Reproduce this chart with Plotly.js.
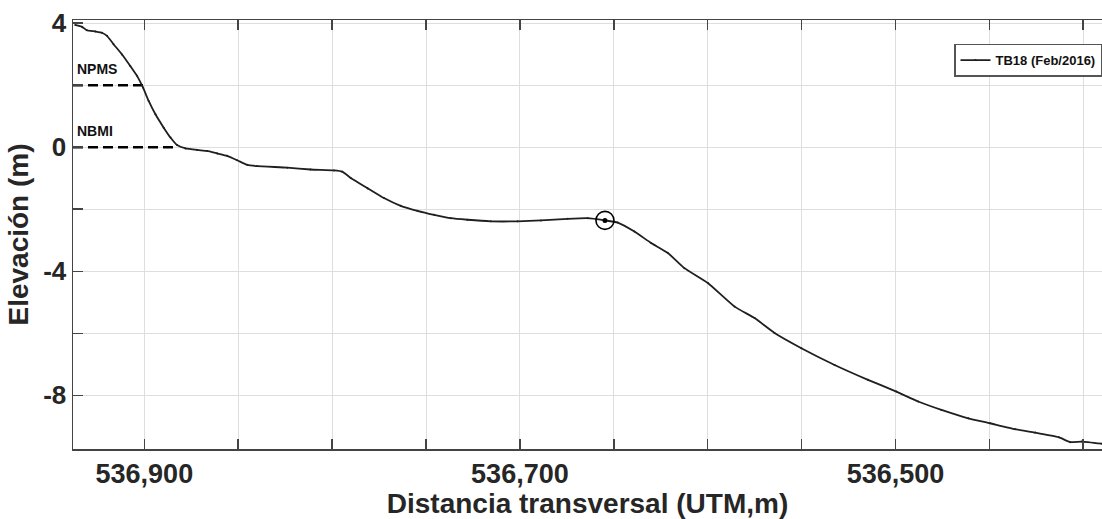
<!DOCTYPE html>
<html>
<head>
<meta charset="utf-8">
<script src="https://cdn.plot.ly/plotly-3.0.1.min.js"></script>
<style>
  html, body { margin: 0; padding: 0; background: #fff; }
  #chart { width: 1102px; height: 519px; }
</style>
</head>
<body>
<div id="chart"></div>
<script>
// Beach profile TB18, surveyed February 2016 (UTM easting vs. elevation)
const seriesName = 'TB18 (Feb/2016)';

const distance = [
  536936.8, 536933.2, 536930.6, 536926.1, 536922.6, 536919.9, 536916.4, 536911.9,
  536907.5, 536903.9, 536900.7, 536897.7, 536894.1, 536889.7, 536886.1, 536882.6,
  536878.1, 536871.9, 536866.6, 536861.2, 536855.9, 536850.6, 536845.2, 536839.9,
  536823.9, 536811.5, 536799.0, 536794.6, 536790.1, 536781.2, 536772.4, 536763.5,
  536754.6, 536745.7, 536736.8, 536727.9, 536715.5, 536701.2, 536688.8, 536674.6,
  536663.9, 536654.7, 536647.9, 536639.0, 536630.1, 536621.2, 536612.4, 536599.9,
  536585.7, 536575.0, 536564.4, 536550.1, 536532.4, 536514.6, 536499.5, 536487.9,
  536475.5, 536461.2, 536449.6, 536436.3, 536425.6, 536413.1, 536406.9, 536400.7,
  536390.1
];

const elevation = [
  3.94, 3.88, 3.77, 3.73, 3.69, 3.59, 3.32, 2.99,
  2.62, 2.30, 1.92, 1.49, 1.06, 0.63, 0.31, 0.07,
  -0.04, -0.09, -0.12, -0.20, -0.28, -0.42, -0.57, -0.61,
  -0.66, -0.72, -0.75, -0.79, -0.99, -1.32, -1.64, -1.89,
  -2.05, -2.18, -2.29, -2.34, -2.39, -2.39, -2.36, -2.31,
  -2.29, -2.36, -2.43, -2.72, -3.09, -3.41, -3.90, -4.38,
  -5.14, -5.51, -5.99, -6.48, -7.02, -7.50, -7.88, -8.20,
  -8.47, -8.74, -8.90, -9.09, -9.20, -9.35, -9.51, -9.49,
  -9.56
];

// Index of the marked break point on the profile
const breakIndex = 41;

// Reference water levels: name, elevation and the easting where the dashed line stops
const levelNames = ['NPMS', 'NBMI'];
const levelValues = [2, 0];
const levelEnds = [536900.5, 536884.0];

// Axis ticks
const xTickValues = [536400, 536450, 536500, 536550, 536600, 536650, 536700, 536750, 536800, 536850, 536900];
const xTickText   = ['', '', '536,500', '', '', '', '536,700', '', '', '', '536,900'];
const yTickValues = [-8, -6, -4, -2, 0, 2, 4];
const yTickText   = ['-8', '', '-4', '', '0', '', '4'];

const xRange = [536938, 536390];
const yRange = [-9.73, 4.1];

const ink = '#262626';
const fontFamily = 'Liberation Sans, Arial, Helvetica, sans-serif';

const traces = [];

// Dashed reference levels
levelValues.forEach((lv, i) => {
  traces.push({
    x: [xRange[0], levelEnds[i]],
    y: [lv, lv],
    mode: 'lines',
    line: { color: '#000', width: 2.5, dash: '10px,5px' },
    showlegend: false,
    hoverinfo: 'skip'
  });
});

// Profile
traces.push({
  x: distance,
  y: elevation,
  name: seriesName,
  mode: 'lines+markers',
  line: { color: '#1f1f1f', width: 1.8, shape: 'spline', smoothing: 0.4 },
  marker: { color: '#1f1f1f', size: 2 },
  showlegend: true
});

// Highlighted break point
traces.push({
  x: [distance[breakIndex]],
  y: [elevation[breakIndex]],
  mode: 'markers',
  marker: { symbol: 'circle-open', size: 18, color: '#000', line: { width: 1.6, color: '#000' } },
  showlegend: false,
  hoverinfo: 'skip'
});
traces.push({
  x: [distance[breakIndex]],
  y: [elevation[breakIndex]],
  mode: 'markers',
  marker: { symbol: 'circle', size: 5, color: '#000' },
  showlegend: false,
  hoverinfo: 'skip'
});

const annotations = levelNames.map((name, i) => ({
  x: xRange[0],
  y: levelValues[i],
  xref: 'x', yref: 'y',
  text: name,
  showarrow: false,
  xanchor: 'left',
  yanchor: 'bottom',
  xshift: 2,
  yshift: 6,
  font: { family: fontFamily, size: 14, color: '#111', weight: 'bold' }
}));

const layout = {
  width: 1102,
  height: 519,
  margin: { l: 73, r: 0, t: 20, b: 70, pad: 0 },
  paper_bgcolor: '#fff',
  plot_bgcolor: '#fff',
  showlegend: true,
  font: { family: fontFamily, color: ink },
  xaxis: {
    range: xRange,
    tickmode: 'array',
    tickvals: xTickValues,
    ticktext: xTickText,
    ticks: 'inside',
    ticklen: 10,
    tickwidth: 1.5,
    tickcolor: '#444',
    showline: true,
    linecolor: '#444',
    linewidth: 1.5,
    mirror: 'ticks',
    showgrid: true,
    gridcolor: '#dedede',
    gridwidth: 1,
    zeroline: false,
    tickfont: { family: fontFamily, size: 27, color: ink, weight: 'bold' },
    title: {
      text: 'Distancia transversal (UTM,m)',
      font: { family: fontFamily, size: 28, color: ink, weight: 'bold' },
      standoff: 2
    },
    automargin: false
  },
  yaxis: {
    range: yRange,
    tickmode: 'array',
    tickvals: yTickValues,
    ticktext: yTickText,
    ticks: 'inside',
    ticklen: 10,
    tickwidth: 1.5,
    tickcolor: '#444',
    showline: true,
    linecolor: '#444',
    linewidth: 1.5,
    showgrid: true,
    gridcolor: '#dedede',
    gridwidth: 1,
    zeroline: false,
    tickfont: { family: fontFamily, size: 26, color: ink, weight: 'bold' },
    title: {
      text: 'Elevación (m)',
      font: { family: fontFamily, size: 28, color: ink, weight: 'bold' },
      standoff: 6
    },
    automargin: false
  },
  legend: {
    x: 1, xanchor: 'right',
    y: 0.945, yanchor: 'top',
    bgcolor: '#fff',
    bordercolor: '#555',
    borderwidth: 1.5,
    font: { family: fontFamily, size: 13, color: '#111', weight: 'bold' },
    itemwidth: 30,
    tracegroupgap: 0
  },
  annotations: annotations
};

Plotly.newPlot('chart', traces, layout, { displayModeBar: false, staticPlot: true });
</script>
</body>
</html>
